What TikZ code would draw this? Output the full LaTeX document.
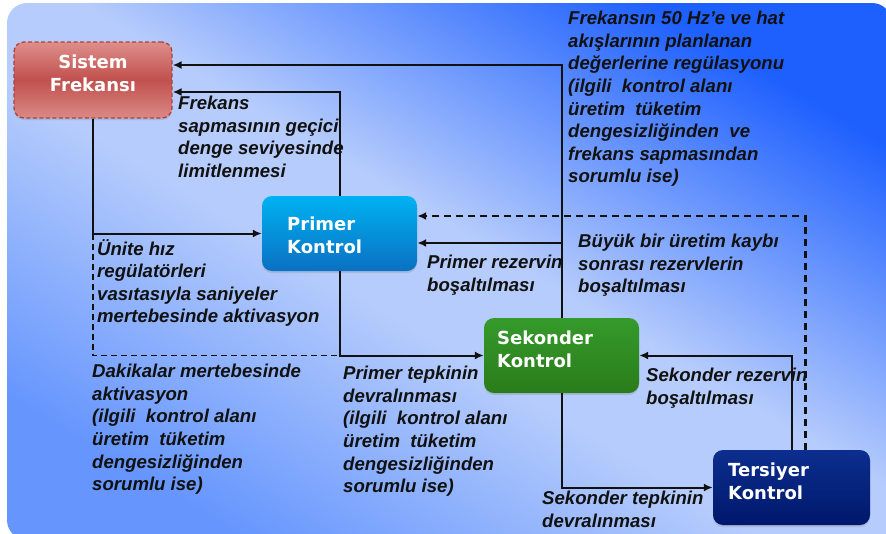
\documentclass[tikz,border=0pt]{standalone}
\usepackage{fontspec}
\setmainfont{Liberation Sans}
\newfontfamily\boxfont{DejaVu Sans}
\usetikzlibrary{arrows.meta,shadows}
\definecolor{bgBL}{HTML}{6696FD}
\definecolor{bgMid}{HTML}{B6CCFC}
\definecolor{bgTR}{HTML}{1E60FE}
\definecolor{sysTop}{HTML}{DE8E8A}
\definecolor{sysMid}{HTML}{C0504D}
\definecolor{sysBot}{HTML}{DA8A86}
\definecolor{sysLine}{HTML}{B03F3C}
\definecolor{priTop}{HTML}{00B2F2}
\definecolor{priBot}{HTML}{0A70C2}
\definecolor{sekTop}{HTML}{359A2B}
\definecolor{sekBot}{HTML}{2A7C1A}
\definecolor{terTop}{HTML}{0C2E8E}
\definecolor{terBot}{HTML}{00186C}
\definecolor{ink}{HTML}{111111}
\pgfdeclarehorizontalshading{bgshade}{100bp}{color(0bp)=(bgTR); color(25bp)=(bgTR); color(47bp)=(bgMid); color(55bp)=(bgMid); color(75bp)=(bgBL); color(100bp)=(bgBL)}
\tikzset{
  ctrl/.style={rounded corners=10pt, minimum width=155, minimum height=75, inner sep=0pt,
    drop shadow={opacity=0.25, shadow xshift=0pt, shadow yshift=-2pt}},
  boxlabel/.style={font=\boxfont\bfseries\fontsize{18}{23}\selectfont, text=white, align=left, inner sep=0pt},
  note/.style={font=\bfseries\itshape\fontsize{18.6}{22.6}\selectfont, text=ink, align=left, inner sep=0pt, anchor=north west,
    execute at begin node=\strut},
  tip/.style={-{Latex[length=9pt,width=8pt]}},
  arr/.style={line width=2pt, draw=ink, tip},
  link/.style={line width=2pt, draw=ink},
  dlink/.style={line width=1.6pt, draw=ink, dash pattern=on 6pt off 4pt},
  darr/.style={line width=2.4pt, draw=ink, dash pattern=on 7pt off 5pt, tip},
}
\begin{document}
\begin{tikzpicture}[x=1pt,y=-1pt]
\useasboundingbox (0,0) rectangle (886,533);
\begin{scope}
\clip (0,0) rectangle (886,533);
\shade[rounded corners=20pt, shading=bgshade, shading angle=-121] (7,3) rectangle (892,540);
\end{scope}

% nodes
\node[ctrl, top color=sysTop, bottom color=sysBot, middle color=sysMid, draw=sysLine, line width=1.3pt, dash pattern=on 4pt off 2.5pt, minimum width=158, minimum height=76] (sys) at (93,80) {};
\node[boxlabel, align=center] (sys-t) at (93,73) {Sistem\\Frekansı};

\node[ctrl, top color=priTop, bottom color=priBot] (pri) at (339.5,233.5) {};
\node[boxlabel, anchor=west] (pri-t) at (287,235) {Primer\\Kontrol};

\node[ctrl, top color=sekTop, bottom color=sekBot] (sek) at (561.5,355.5) {};
\node[boxlabel, anchor=west] (sek-t) at (497,349) {Sekonder\\Kontrol};

\node[ctrl, top color=terTop, bottom color=terBot, minimum width=157] (ter) at (791.5,487.5) {};
\node[boxlabel, anchor=west] (ter-t) at (728,481) {Tersiyer\\Kontrol};

% connectors
\draw[arr] (sek.north) |- (sys.east |- 0,65);
\draw[arr] (pri.north) |- (sys.east |- 0,92);
\draw[arr] (sys.south) |- (pri.west);
\draw[dlink] (sys.south |- pri.west) |- (pri.south |- sek.west);
\draw[arr] (pri.south) |- (sek.west);
\draw[arr] (sek.north |- 0,243) -- (pri.east |- 0,243);
\draw[darr] ([xshift=14pt]ter.north) |- (pri.east |- 0,216);
\draw[arr] (ter.north) |- (sek.east);
\draw[arr] (sek.south) |- (ter.west);

% notes
\node[note] (n1) at (178,96) {Frekans\\sapmasının geçici\\denge seviyesinde\\limitlenmesi};
\node[note] (n2) at (568,11) {Frekansın 50 Hz’e ve hat\\akışlarının planlanan\\değerlerine regülasyonu\\(ilgili\ \ kontrol alanı\\üretim\ \ tüketim\\dengesizliğinden\ \ ve\\frekans sapmasından\\sorumlu ise)};
\node[note] (n3) at (97,239) {Ünite hız\\regülatörleri\\vasıtasıyla saniyeler\\mertebesinde aktivasyon};
\node[note] (n4) at (427,255) {Primer rezervin\\boşaltılması};
\node[note] (n5) at (578,234) {Büyük bir üretim kaybı\\sonrası rezervlerin\\boşaltılması};
\node[note] (n6) at (92,364) {Dakikalar mertebesinde\\aktivasyon\\(ilgili\ \ kontrol alanı\\üretim\ \ tüketim\\dengesizliğinden\\sorumlu ise)};
\node[note] (n7) at (343,366) {Primer tepkinin\\devralınması\\(ilgili\ \ kontrol alanı\\üretim\ \ tüketim\\dengesizliğinden\\sorumlu ise)};
\node[note] (n8) at (646,368) {Sekonder rezervin\\boşaltılması};
\node[note] (n9) at (542,491) {Sekonder tepkinin\\devralınması};
\end{tikzpicture}
\end{document}
